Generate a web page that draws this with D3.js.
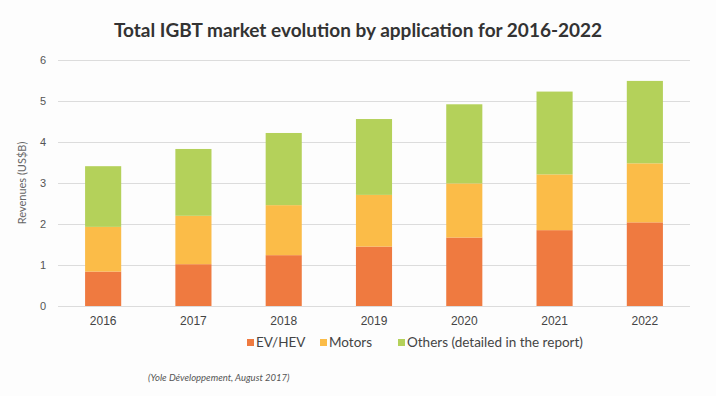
<!DOCTYPE html>
<html>
<head>
<meta charset="utf-8">
<script src="https://cdnjs.cloudflare.com/ajax/libs/d3/7.8.5/d3.min.js"></script>
<style>
  body { margin: 0; background: #fdfdfd; }
  svg { font-family: "Lato", "Open Sans", sans-serif; }
</style>
</head>
<body>
<div id="chart"></div>
<script>
// chart data
var years = ["2016", "2017", "2018", "2019", "2020", "2021", "2022"];
var evHev = [0.84, 1.02, 1.24, 1.45, 1.67, 1.85, 2.04];
var motors = [1.09, 1.18, 1.22, 1.26, 1.32, 1.36, 1.44];
var others = [1.48, 1.63, 1.76, 1.85, 1.93, 2.02, 2.01];
var seriesNames = ["EV/HEV", "Motors", "Others (detailed in the report)"];
var seriesKeys = ["ev", "motors", "others"];
var yTicks = [0, 1, 2, 3, 4, 5, 6];
var colors = ["#ef7a40", "#fbbc48", "#b4d15a"];

function createChart(){
	var W = 716, H = 396;
	var margin = {left: 58, right: 26, top: 60, bottom: 90};
	var width = W - margin.left - margin.right;
	var height = H - margin.top - margin.bottom;

	var svg = d3.select("#chart")
				.append("svg")
				.attr("width", W)
				.attr("height", H);

	// title
	svg.append("text")
		.attr("x", 358)
		.attr("y", 37)
		.attr("text-anchor", "middle")
		.attr("font-size", "19px")
		.attr("font-weight", "bold")
		.attr("fill", "#333")
		.text("Total IGBT market evolution by application for 2016-2022");

	var g = svg.append("g")
				.attr("transform", "translate(" + margin.left + "," + margin.top + ")");

	// rows for the stack
	var rows = years.map(function(y, i){
		return {year: y, ev: evHev[i], motors: motors[i], others: others[i]};
	});

	var x = d3.scaleBand().domain(years).range([0, width]).paddingInner(0.6).paddingOuter(0.3);
	var y = d3.scaleLinear().domain([0, 6]).range([height, 0]);

	// gridlines
	g.append("g")
		.call(d3.axisLeft(y).tickValues(yTicks).tickSize(-width).tickFormat(""))
		.call(function(s){
			s.select(".domain").remove();
			s.selectAll("line").attr("stroke", "#dcdcdc");
		});

	// y tick labels
	g.append("g")
		.call(d3.axisLeft(y).tickValues(yTicks).tickFormat(d3.format("d")).tickSize(0).tickPadding(12))
		.call(function(s){
			s.select(".domain").remove();
			s.selectAll("text").attr("fill", "#555").attr("font-size", "11px");
		});

	// x tick labels
	g.append("g")
		.attr("transform", "translate(0," + height + ")")
		.call(d3.axisBottom(x).tickSize(0).tickPadding(10))
		.call(function(s){
			s.select(".domain").remove();
			s.selectAll("text").attr("fill", "#444").attr("font-size", "12px");
		});

	// stacked bars
	var stack = d3.stack().keys(seriesKeys)(rows);
	g.selectAll(".series")
		.data(stack)
		.enter().append("g")
		.attr("fill", function(d, i){ return colors[i]; })
		.selectAll("rect")
		.data(function(d){ return d; })
		.enter().append("rect")
		.attr("x", function(d){ return x(d.data.year); })
		.attr("width", x.bandwidth())
		.attr("y", function(d){ return y(d[1]); })
		.attr("height", function(d){ return y(d[0]) - y(d[1]); });

	// y axis title
	svg.append("text")
		.attr("transform", "translate(26," + (margin.top + height / 2) + ") rotate(-90)")
		.attr("text-anchor", "middle")
		.attr("font-size", "11px")
		.attr("fill", "#666")
		.text("Revenues (US$B)");

	// legend
	var legendX = [247, 320, 398];
	var legend = svg.selectAll(".legend")
		.data(seriesNames)
		.enter().append("g")
		.attr("transform", function(d, i){ return "translate(" + legendX[i] + ",347)"; });
	legend.append("rect")
		.attr("x", 0).attr("y", -8)
		.attr("width", 7).attr("height", 7)
		.attr("fill", function(d, i){ return colors[i]; });
	legend.append("text")
		.attr("x", 9)
		.attr("y", 0)
		.attr("font-size", "13.5px")
		.attr("fill", "#444")
		.text(function(d){ return d; });

	// source
	svg.append("text")
		.attr("x", 148)
		.attr("y", 381)
		.attr("font-size", "9.5px")
		.attr("font-style", "italic")
		.attr("fill", "#555")
		.text("(Yole Développement, August 2017)");
}
createChart();
</script>
</body>
</html>
